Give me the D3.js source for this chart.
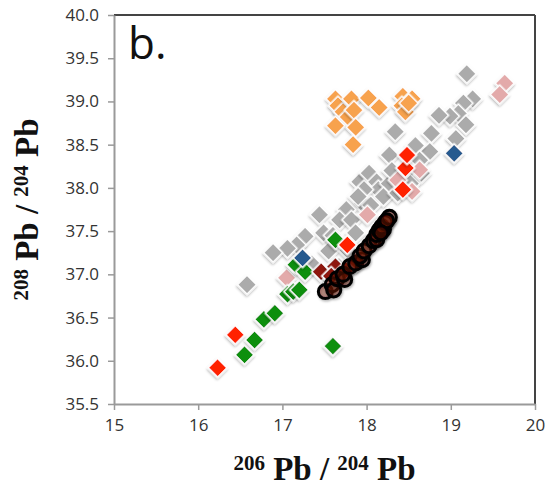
<!DOCTYPE html>
<html><head><meta charset="utf-8">
<script src="https://cdn.jsdelivr.net/npm/d3@7"></script>
<style>body{margin:0;background:#fff;}svg{display:block;}</style>
</head><body>
<script>
// ---- data (206Pb/204Pb, 208Pb/204Pb) ----
const xTicks = [15, 16, 17, 18, 19, 20];
const yTicks = [35.5, 36.0, 36.5, 37.0, 37.5, 38.0, 38.5, 39.0, 39.5, 40.0];

const grayPts = [
  [19.19,39.32],[19.26,39.03],[19.15,38.98],[19.09,38.86],[19.18,38.73],[18.99,38.83],
  [18.86,38.84],[19.06,38.57],[18.77,38.63],[18.75,38.42],[18.58,38.49],[18.34,38.65],
  [18.27,38.38],[17.92,38.07],[18.03,38.17],[18.12,38.07],[18.14,37.98],[18.27,38.05],
  [17.97,37.98],[17.95,37.82],[17.76,37.75],[17.68,37.63],[17.82,37.63],[17.44,37.69],
  [17.49,37.48],[17.27,37.44],[17.17,37.34],[17.06,37.30],[16.89,37.25],[16.58,36.88],
  [17.55,37.27],[17.67,37.09],[17.78,37.28],[17.87,37.48],[18.20,37.90],[18.37,37.94],
  [18.63,38.32],[18.65,38.17],[18.05,37.80],[17.60,37.45],[18.45,38.15],[18.52,38.05],
  [17.35,37.12],[17.90,37.90],[18.30,38.20]
];
const orangePts = [
  [17.63,39.03],[17.66,38.95],[17.72,38.88],[17.82,39.03],[17.78,38.82],[17.85,38.90],
  [18.02,39.04],[18.15,38.93],[17.63,38.72],[17.87,38.70],[17.84,38.50],[18.43,39.06],
  [18.54,39.03],[18.42,38.95],[18.46,38.88],[18.50,38.98]
];
const pinkPts = [
  [19.64,39.21],[19.58,39.08],[18.63,38.21],[18.54,37.96],[18.01,37.69],[17.05,36.96],[18.37,38.09]
];
const redPts = [
  [16.23,35.92],[16.44,36.30],[18.43,37.98],[18.46,38.23],[18.48,38.38],[17.77,37.34]
];
const darkRedPts = [
  [17.46,37.03],[17.63,37.09],[17.58,36.98],[17.87,37.13],[17.75,37.05]
];
const bluePts = [[17.24,37.19],[19.04,38.40]];
const greenPts = [
  [17.60,36.17],[16.55,36.07],[16.67,36.24],[16.78,36.48],[16.91,36.55],[17.06,36.77],
  [17.13,36.80],[17.20,36.82],[17.16,37.11],[17.27,37.03],[17.63,37.40]
];
const circlePts = [
  [17.51,36.80],[17.59,36.88],[17.61,36.82],[17.65,36.95],[17.74,36.94],[17.72,37.00],
  [17.80,37.09],[17.87,37.13],[17.95,37.17],[17.92,37.21],[17.97,37.27],[18.03,37.33],
  [18.08,37.39],[18.12,37.40],[18.12,37.46],[18.15,37.51],[18.20,37.52],[18.18,37.55],
  [18.22,37.60],[18.27,37.66],[18.24,37.62],[18.17,37.48]
];

const W = 557, H = 489;
const m = {left:114, right:W-535, top:15, bottom:H-404};

const svg = d3.select("body").append("svg").attr("width", W).attr("height", H);
const defs = svg.append("defs");
const f = defs.append("filter").attr("id","sh").attr("x","-50%").attr("y","-50%").attr("width","200%").attr("height","200%");
f.append("feDropShadow").attr("dx",1).attr("dy",1.5).attr("stdDeviation",1.2)
  .attr("flood-color","#000").attr("flood-opacity",0.3);

const x = d3.scaleLinear().domain([15,20]).range([m.left, W-m.right]);
const y = d3.scaleLinear().domain([35.5,40]).range([H-m.bottom, m.top]);

// frame top/right
svg.append("line").attr("x1",x(15)).attr("x2",x(20)).attr("y1",y(40)).attr("y2",y(40))
  .attr("stroke","#444").attr("stroke-width",2);
svg.append("line").attr("x1",x(20)).attr("x2",x(20)).attr("y1",y(40)).attr("y2",y(35.5))
  .attr("stroke","#444").attr("stroke-width",2);

// axes
const gx = svg.append("g").attr("transform",`translate(0,${y(35.5)})`)
  .call(d3.axisBottom(x).tickValues(xTicks).tickFormat(d3.format("d")).tickSize(6).tickSizeOuter(0));
const gy = svg.append("g").attr("transform",`translate(${x(15)},0)`)
  .call(d3.axisLeft(y).tickValues(yTicks).tickFormat(d3.format(".1f")).tickSize(6).tickSizeOuter(0));
[gx,gy].forEach(g=>{
  g.select(".domain").attr("stroke","#9a9a9a").attr("stroke-width",2);
  g.selectAll(".tick line").attr("stroke","#9a9a9a").attr("stroke-width",1.5);
  g.selectAll(".tick text").attr("fill","#333").style("font-family","'Open Sans', sans-serif").style("font-size","17px");
});
gx.selectAll(".tick text").attr("dy","1.05em");
gy.selectAll(".tick text").attr("dx","-0.35em");

// markers
const sq = d3.symbol().type(d3.symbolSquare).size(185);
function diamonds(data, color){
  svg.append("g").selectAll("path").data(data).join("path")
    .attr("d", sq)
    .attr("transform", d=>`translate(${x(d[0])},${y(d[1])}) rotate(45)`)
    .attr("fill", color).attr("stroke","#fff").attr("stroke-width",1.5)
    .attr("filter","url(#sh)");
}
diamonds(grayPts, "#ababab");
diamonds(pinkPts, "#e3aaaa");
diamonds(orangePts, "#f7a24e");
diamonds(greenPts, "#0c8f0c");
diamonds(bluePts, "#255a8f");
diamonds(redPts, "#ff2400");
diamonds(darkRedPts, "#8e1508");

svg.append("g").selectAll("circle").data(circlePts).join("circle")
  .attr("cx", d=>x(d[0])).attr("cy", d=>y(d[1])).attr("r",7)
  .attr("fill","#6a0f06").attr("fill-opacity",0.45)
  .attr("stroke","#000").attr("stroke-width",3)
  .attr("filter","url(#sh)");

// panel label
svg.append("text").attr("x",128).attr("y",59).text("b.")
  .style("font-family","'Open Sans', sans-serif").style("font-size","44px").attr("fill","#111");

// axis titles
const serif = "'Liberation Serif', 'Times New Roman', serif";
const xt = svg.append("text").attr("x",(x(15)+x(20))/2).attr("y",480).attr("text-anchor","middle")
  .style("font-family",serif).style("font-weight","bold").attr("fill","#111");
xt.append("tspan").text("206").style("font-size","21px").attr("dy","-10");
xt.append("tspan").text(" Pb / ").style("font-size","33px").attr("dy","10");
xt.append("tspan").text("204").style("font-size","21px").attr("dy","-10");
xt.append("tspan").text(" Pb").style("font-size","33px").attr("dy","10");

const yt = svg.append("text").attr("transform",`translate(38,${(y(35.5)+y(40))/2}) rotate(-90)`)
  .attr("text-anchor","middle")
  .style("font-family",serif).style("font-weight","bold").attr("fill","#111");
yt.append("tspan").text("208").style("font-size","21px").attr("dy","-10");
yt.append("tspan").text(" Pb / ").style("font-size","33px").attr("dy","10");
yt.append("tspan").text("204").style("font-size","21px").attr("dy","-10");
yt.append("tspan").text(" Pb").style("font-size","33px").attr("dy","10");
</script>
</body></html>
